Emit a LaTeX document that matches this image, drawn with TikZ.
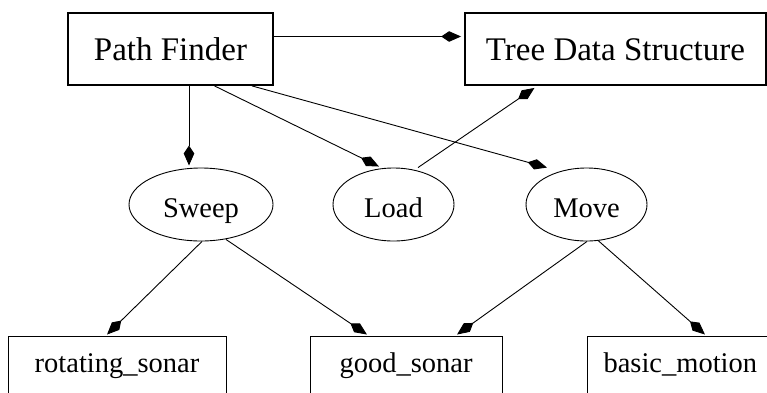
\documentclass[tikz,border=0pt]{standalone}
\usepackage{fontspec}
\setmainfont{Liberation Serif}
\usetikzlibrary{arrows.meta,shapes.geometric}
\tikzset{
  bigbox/.style={draw, line width=1.8pt, rectangle, inner sep=0pt,
    font=\fontsize{33}{36}\selectfont, text height=23pt, text depth=0pt},
  smallbox/.style={draw, line width=0.9pt, rectangle, inner sep=0pt,
    font=\fontsize{28.5}{32}\selectfont, text height=8pt, text depth=8pt},
  ell/.style={draw, line width=0.9pt, ellipse, inner sep=0pt,
    minimum height=73pt, font=\fontsize{28.5}{32}\selectfont,
    text height=25pt, text depth=0pt},
  edge/.style={draw, line width=0.9pt, -{Stealth[length=12pt,width=10pt,inset=-8pt]}},
}
\begin{document}
\begin{tikzpicture}[x=1pt,y=-1pt]
\useasboundingbox (0,0) rectangle (767,392);
\clip (0,0) rectangle (767,392);
% top boxes
\node[bigbox, minimum width=205pt, minimum height=72pt] (pf) at (170.5,49) {Path Finder};
\node[bigbox, minimum width=301pt, minimum height=72pt] (tds) at (615.5,49) {Tree Data Structure};
% ellipses
\node[ell, minimum width=144pt] (sweep) at (201,204.5) {Sweep};
\node[ell, minimum width=121pt] (load) at (393.5,204.5) {Load};
\node[ell, minimum width=121pt] (move) at (586.5,204.5) {Move};
% bottom boxes
\node[smallbox, minimum width=218pt, minimum height=72pt] (rot) at (117,372) {rotating\_sonar};
\node[smallbox, minimum width=192pt, minimum height=72pt] (good) at (406,372) {good\_sonar};
\node[smallbox, minimum width=213pt, minimum height=72pt, text width=180pt, align=left] (basic) at (693.5,372) {basic\_motion};
% edges
\draw[edge] ([yshift=12.5pt]pf.east) -- ([yshift=12.5pt,xshift=-3pt]tds.west);
\draw[edge] ([xshift=18.5pt]pf.south) -- ([xshift=-12pt,yshift=2pt]sweep.north);
\draw[edge] ([xshift=44pt]pf.south) -- ([xshift=-14.5pt,yshift=1pt]load.north);
\draw[edge] ([xshift=81.5pt]pf.south) -- ([xshift=-39.5pt]move.north);
\draw[edge] ([xshift=24.5pt]load.north) -- ([xshift=-81pt,yshift=-2pt]tds.south);
\draw[edge] ([xshift=1pt]sweep.south) -- ([xshift=-10pt,yshift=1pt]rot.north);
\draw[edge] ([xshift=25pt,yshift=2pt]sweep.south) -- ([xshift=-39pt,yshift=1pt]good.north);
\draw[edge] ([xshift=0.5pt]move.south) -- ([xshift=51pt,yshift=1pt]good.north);
\draw[edge] ([xshift=11.5pt,yshift=1pt]move.south) -- ([xshift=11.5pt,yshift=1pt]basic.north);
\end{tikzpicture}
\end{document}
